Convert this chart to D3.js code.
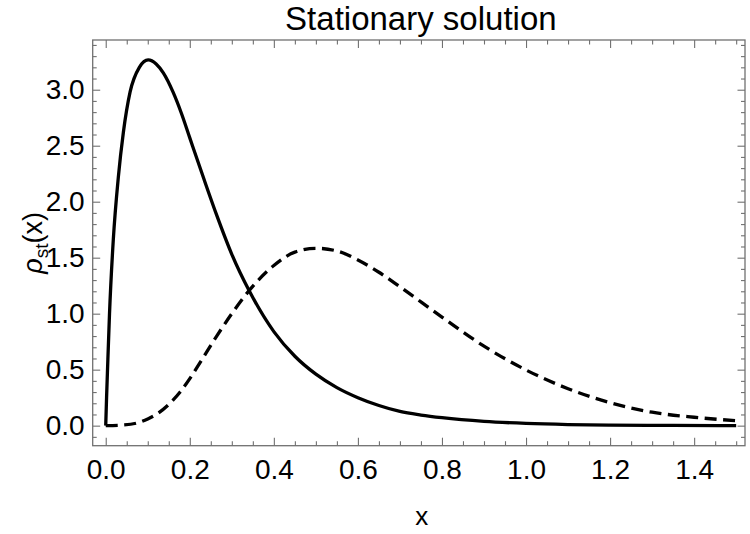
<!DOCTYPE html>
<html>
<head>
<meta charset="utf-8">
<script src="https://cdn.jsdelivr.net/npm/d3@7"></script>
<style>
  body { margin: 0; background: #fff; }
  svg { display: block; font-family: "Liberation Sans", Arial, sans-serif; }
  .tick text { fill: #000; }
</style>
</head>
<body>
<div id="chart"></div>
<script>
// values
var solidX = [0, 0.002, 0.004, 0.009, 0.018, 0.03, 0.042, 0.058, 0.08, 0.101, 0.12, 0.137, 0.16, 0.18, 0.2, 0.232, 0.264, 0.3, 0.342, 0.4, 0.45, 0.5, 0.55, 0.6, 0.65, 0.7, 0.75, 0.8, 0.9, 1.0, 1.1, 1.2, 1.35, 1.5];
var solidY = [0, 0.25, 0.47, 1.0, 1.66, 2.22, 2.62, 2.98, 3.2, 3.266, 3.23, 3.15, 2.98, 2.79, 2.57, 2.22, 1.88, 1.53, 1.2, 0.84, 0.62, 0.46, 0.34, 0.25, 0.18, 0.127, 0.095, 0.071, 0.038, 0.02, 0.01, 0.005, 0.002, 0.001];

var dashX = [0, 0.04, 0.08, 0.1, 0.12, 0.15, 0.177, 0.2, 0.224, 0.264, 0.3, 0.342, 0.4, 0.45, 0.5, 0.55, 0.6, 0.65, 0.7, 0.8, 0.9, 1.0, 1.1, 1.2, 1.3, 1.4, 1.5];
var dashY = [0, 0.005, 0.03, 0.06, 0.1, 0.19, 0.3, 0.42, 0.56, 0.8, 1.0, 1.21, 1.43, 1.55, 1.584, 1.56, 1.48, 1.37, 1.24, 0.97, 0.71, 0.497, 0.33, 0.205, 0.12, 0.075, 0.044];

var xMajor = [0, 0.2, 0.4, 0.6, 0.8, 1.0, 1.2, 1.4];
var xMinor = [0.05, 0.1, 0.15, 0.25, 0.3, 0.35, 0.45, 0.5, 0.55, 0.65, 0.7, 0.75, 0.85, 0.9, 0.95, 1.05, 1.1, 1.15, 1.25, 1.3, 1.35, 1.45, 1.5];
var yMajor = [0, 0.5, 1.0, 1.5, 2.0, 2.5, 3.0];
var yMinor = [-0.1, 0.1, 0.2, 0.3, 0.4, 0.6, 0.7, 0.8, 0.9, 1.1, 1.2, 1.3, 1.4, 1.6, 1.7, 1.8, 1.9, 2.1, 2.2, 2.3, 2.4, 2.6, 2.7, 2.8, 2.9, 3.1, 3.2, 3.3, 3.4];

var W = 750, H = 534;
var frameL = 92.7, frameR = 745, frameT = 40, frameB = 445.7;
var frameColor = "#707070";

var svg = d3.select("#chart").append("svg")
    .attr("width", W)
    .attr("height", H);

var x = d3.scaleLinear().domain([-0.031, 1.521]).range([frameL, frameR]);
var y = d3.scaleLinear().domain([-0.179, 3.444]).range([frameB, frameT]);

function fmt(d) { return d3.format(".1f")(d); }

// major + minor ticks, pointing inward on all four sides
function addAxis(axis, tx, ty, showLabels) {
    var g = svg.append("g")
        .attr("transform", "translate(" + tx + "," + ty + ")")
        .call(axis)
        .attr("font-size", 28)
        .attr("font-family", null);
    g.select(".domain").remove();
    g.selectAll(".tick line").attr("stroke", frameColor).attr("stroke-width", 1.1);
    if (!showLabels) g.selectAll(".tick text").remove();
    return g;
}

addAxis(d3.axisBottom(x).tickValues(xMajor).tickFormat(fmt).tickSizeInner(-8).tickSizeOuter(0).tickPadding(13), 0, frameB, true);
addAxis(d3.axisBottom(x).tickValues(xMinor).tickFormat("").tickSizeInner(-4.5).tickSizeOuter(0), 0, frameB, false);
addAxis(d3.axisTop(x).tickValues(xMajor).tickSizeInner(-8).tickSizeOuter(0), 0, frameT, false);
addAxis(d3.axisTop(x).tickValues(xMinor).tickSizeInner(-4.5).tickSizeOuter(0), 0, frameT, false);

addAxis(d3.axisLeft(y).tickValues(yMajor).tickFormat(fmt).tickSizeInner(-7.5).tickSizeOuter(0).tickPadding(8), frameL, 0, true);
addAxis(d3.axisLeft(y).tickValues(yMinor).tickFormat("").tickSizeInner(-4).tickSizeOuter(0), frameL, 0, false);
addAxis(d3.axisRight(y).tickValues(yMajor).tickSizeInner(-7.5).tickSizeOuter(0), frameR, 0, false);
addAxis(d3.axisRight(y).tickValues(yMinor).tickSizeInner(-4).tickSizeOuter(0), frameR, 0, false);

// frame
svg.append("rect")
    .attr("x", frameL).attr("y", frameT)
    .attr("width", frameR - frameL).attr("height", frameB - frameT)
    .attr("fill", "none")
    .attr("stroke", frameColor)
    .attr("stroke-width", 1.3);

// curves
var line = d3.line()
    .x(function(d) { return x(d[0]); })
    .y(function(d) { return y(d[1]); })
    .curve(d3.curveMonotoneX);

var solid = d3.zip(solidX, solidY);
var dashed = d3.zip(dashX, dashY);

svg.append("path")
    .datum(dashed)
    .attr("d", line)
    .attr("fill", "none")
    .attr("stroke", "#000")
    .attr("stroke-width", 3.3)
    .attr("stroke-dasharray", "12,6.5");

svg.append("path")
    .datum(solid)
    .attr("d", line)
    .attr("fill", "none")
    .attr("stroke", "#000")
    .attr("stroke-width", 3.3)
    .attr("stroke-linejoin", "round");

// title
svg.append("text")
    .attr("x", (frameL + frameR) / 2 + 2)
    .attr("y", 30)
    .attr("text-anchor", "middle")
    .style("font-size", "33px")
    .text("Stationary solution");

// x label
svg.append("text")
    .attr("x", (frameL + frameR) / 2 + 3)
    .attr("y", 525)
    .attr("text-anchor", "middle")
    .style("font-size", "26px")
    .text("x");

// y label
var yl = svg.append("text")
    .attr("transform", "translate(42," + ((frameT + frameB) / 2) + ") rotate(-90)")
    .attr("text-anchor", "middle")
    .style("font-size", "27px");
yl.append("tspan").style("font-style", "italic").text("\u03C1");
yl.append("tspan").attr("dy", 6).style("font-size", "19px").text("st");
yl.append("tspan").attr("dy", -6).text("(x)");
</script>
</body>
</html>
